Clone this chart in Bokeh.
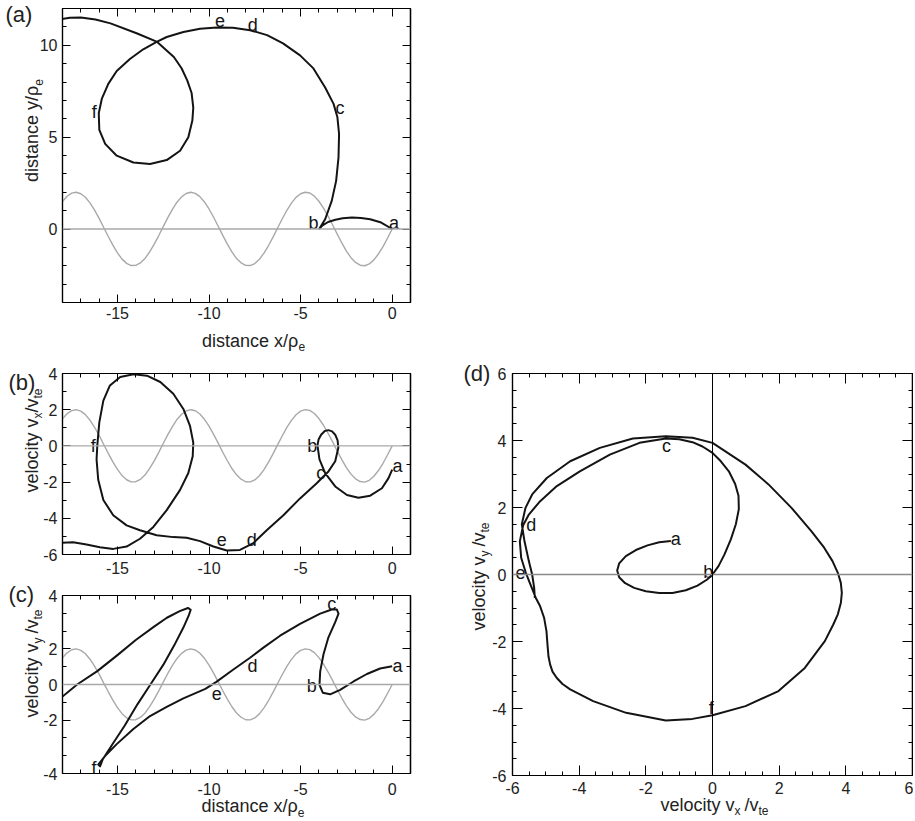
import math
from bokeh.plotting import figure
from bokeh.models import LinearAxis, SingleIntervalTicker, FixedTicker, Span, Range1d, Spacer
from bokeh.layouts import row, column
from bokeh.embed import file_html
from bokeh.resources import INLINE
from bokeh.core.properties import value

FONT = "Liberation Sans"
INK = "#141414"
GRAY = "#a9a9a9"
TXT = "#222222"

# ---------------- data ----------------
# gray reference wave, shared by panels (a)-(c)
wave_x = [-18.0, -17.75, -17.5, -17.25, -17.0, -16.75, -16.5, -16.25, -16.0, -15.75,
          -15.5, -15.25, -15.0, -14.75, -14.5, -14.25, -14.0, -13.75, -13.5, -13.25,
          -13.0, -12.75, -12.5, -12.25, -12.0, -11.75, -11.5, -11.25, -11.0, -10.75,
          -10.5, -10.25, -10.0, -9.75, -9.5, -9.25, -9.0, -8.75, -8.5, -8.25,
          -8.0, -7.75, -7.5, -7.25, -7.0, -6.75, -6.5, -6.25, -6.0, -5.75,
          -5.5, -5.25, -5.0, -4.75, -4.5, -4.25, -4.0, -3.75, -3.5, -3.25,
          -3.0, -2.75, -2.5, -2.25, -2.0, -1.75, -1.5, -1.25, -1.0, -0.75,
          -0.5, -0.25, 0.0]
wave_y = [1.50, 1.78, 1.95, 2.00, 1.92, 1.73, 1.42, 1.03, 0.58, 0.08,
          -0.41, -0.88, -1.30, -1.64, -1.87, -1.99, -1.98, -1.85, -1.61, -1.26,
          -0.84, -0.37, 0.13, 0.62, 1.07, 1.46, 1.75, 1.93, 2.00, 1.94,
          1.76, 1.47, 1.09, 0.64, 0.15, -0.35, -0.82, -1.25, -1.60, -1.84,
          -1.98, -1.99, -1.88, -1.65, -1.31, -0.90, -0.43, 0.07, 0.56, 1.02,
          1.41, 1.72, 1.92, 2.00, 1.96, 1.79, 1.51, 1.14, 0.70, 0.22,
          -0.28, -0.76, -1.20, -1.56, -1.82, -1.97, -2.00, -1.90, -1.68, -1.36,
          -0.96, -0.49, 0.00]

# (a) position: x vs y
x_a = [0.0, -0.6, -1.2, -1.7, -2.2, -2.7, -3.1, -3.5, -3.8, -3.97,
       -3.66, -3.3, -3.06, -2.93, -2.9, -2.99, -3.2, -3.66, -4.3, -5.03,
       -5.96, -6.83, -7.76, -8.69, -9.58, -10.49, -11.4, -12.31, -12.86, -13.59,
       -14.32, -15.04, -15.5, -15.85, -16.02, -15.99, -15.67, -15.04, -14.13, -13.22,
       -12.31, -11.58, -11.13, -10.91, -10.86, -10.95, -11.19, -11.5, -11.92, -12.83,
       -13.92, -15.38, -16.2, -17.0, -17.6, -18.05]
y_a = [0.0, 0.35, 0.53, 0.6, 0.62, 0.58, 0.5, 0.38, 0.2, 0.02,
       0.53, 1.53, 2.62, 3.9, 5.17, 6.08, 6.81, 7.7, 8.74, 9.45,
       10.1, 10.55, 10.82, 10.95, 10.97, 10.9, 10.72, 10.45, 10.18, 9.78,
       9.25, 8.6, 7.9, 7.1, 6.3, 5.4, 4.63, 3.99, 3.62, 3.54,
       3.75, 4.26, 4.99, 5.9, 6.6, 7.4, 8.09, 8.75, 9.36, 10.18,
       10.64, 11.19, 11.4, 11.51, 11.5, 11.42]

# (b) x vs vx
x_b = [0.0, -0.2, -0.56, -1.2, -1.84, -2.47, -3.11, -3.66, -3.97, -4.08,
       -4.02, -3.88, -3.68, -3.48, -3.28, -3.1, -2.98, -2.94, -3.11, -3.48,
       -4.12, -5.03, -5.94, -6.85, -7.58, -8.31, -9.03, -9.76, -10.49, -11.22,
       -11.95, -12.86, -13.77, -14.5, -15.23, -15.77, -16.05, -16.14, -16.1, -15.99,
       -15.77, -15.41, -14.85, -14.12, -13.39, -12.66, -11.95, -11.4, -11.04, -10.86,
       -10.89, -11.13, -11.58, -12.31, -13.04, -13.77, -14.5, -15.23, -15.96, -16.69,
       -17.42, -18.05]
vx_b = [-1.31, -1.78, -2.34, -2.75, -2.86, -2.71, -2.24, -1.5, -0.75, 0.03,
        0.35, 0.62, 0.82, 0.87, 0.8, 0.6, 0.3, -0.1, -0.85, -1.41,
        -2.06, -2.9, -3.83, -4.66, -5.37, -5.75, -5.78, -5.56, -5.26, -5.07,
        -5.04, -4.94, -4.66, -4.39, -3.83, -2.99, -1.87, -0.75, 0.03, 1.3,
        2.5, 3.34, 3.81, 3.96, 3.88, 3.53, 2.88, 2.04, 1.11, 0.18,
        -0.57, -1.5, -2.43, -3.55, -4.48, -5.13, -5.56, -5.69, -5.6, -5.45,
        -5.32, -5.35]

# (c) x vs vy
x_c = [0.0, -0.66, -1.38, -2.11, -2.84, -3.39, -3.79, -3.97, -3.93, -3.75,
       -3.48, -3.11, -2.93, -3.02, -3.3, -3.93, -5.03, -6.12, -7.03, -7.76,
       -8.67, -9.6, -10.2, -11.4, -12.31, -13.22, -14.13, -15.04, -15.68, -16.05,
       -15.95, -15.8, -15.3, -14.6, -13.9, -13.2, -12.5, -11.9, -11.4, -11.1,
       -11.0, -11.15, -11.6, -12.3, -13.0, -14.0, -15.0, -16.1, -17.2, -18.05]
vy_c = [1.03, 0.9, 0.59, 0.17, -0.3, -0.55, -0.46, -0.02, 0.74, 1.7,
        2.65, 3.5, 3.98, 4.21, 4.21, 3.98, 3.41, 2.74, 2.07, 1.5,
        0.84, 0.15, -0.25, -0.78, -1.26, -1.77, -2.5, -3.35, -4.02, -4.5,
        -4.6, -4.2, -3.4, -2.3, -1.1, 0.0, 1.1, 2.2, 3.2, 3.9,
        4.2, 4.3, 4.12, 3.75, 3.25, 2.5, 1.65, 0.75, 0.0, -0.72]

# (d) vx vs vy
vx_d = [-1.25, -1.6, -1.95, -2.3, -2.6, -2.8, -2.86, -2.8, -2.62, -2.35,
        -2.0, -1.6, -1.2, -0.8, -0.45, -0.16, 0.0, 0.18, 0.36, 0.55,
        0.7, 0.79, 0.78, 0.68, 0.49, 0.25, 0.0, -0.3, -0.6, -1.0,
        -1.4, -2.19, -3.08, -3.98, -4.67, -5.17, -5.51, -5.68, -5.78, -5.74,
        -5.6, -5.46, -5.3, -5.17, -5.05, -4.98, -4.95, -4.92, -4.87, -4.8,
        -4.67, -4.5, -4.27, -3.58, -2.59, -1.4, -0.6, 0.0, 0.99, 1.98,
        2.77, 3.37, 3.62, 3.76, 3.85, 3.88, 3.85, 3.76, 3.6, 3.35,
        2.97, 2.37, 1.68, 0.99, 0.0, -0.6, -1.4, -2.39, -3.38, -4.27,
        -4.97, -5.41, -5.61, -5.72, -5.64, -5.51, -5.41, -5.35, -5.33]
vy_d = [1.0, 0.96, 0.87, 0.73, 0.55, 0.33, 0.12, -0.08, -0.26, -0.4,
        -0.5, -0.55, -0.55, -0.47, -0.33, -0.15, 0.0, 0.25, 0.6, 1.05,
        1.5, 1.95, 2.35, 2.7, 3.08, 3.38, 3.63, 3.82, 3.95, 4.04,
        4.06, 3.93, 3.58, 3.08, 2.64, 2.19, 1.79, 1.47, 0.99, 0.5,
        0.05, -0.3, -0.7, -0.95, -1.3, -1.7, -2.1, -2.45, -2.69, -2.9,
        -3.09, -3.27, -3.43, -3.78, -4.13, -4.36, -4.31, -4.2, -3.93, -3.48,
        -2.79, -1.99, -1.5, -1.19, -0.85, -0.55, -0.25, 0.05, 0.4, 0.8,
        1.29, 1.99, 2.69, 3.28, 3.93, 4.08, 4.13, 4.06, 3.78, 3.38,
        2.88, 2.39, 1.99, 1.5, 0.99, 0.4, 0.0, -0.4, -0.7]

# point markers a-f
mark_names = ["a", "b", "c", "d", "e", "f"]
mark_a_x = [0.1, -4.3, -2.85, -7.61, -9.4, -16.27]
mark_a_y = [0.35, 0.35, 6.6, 11.09, 11.33, 6.36]
mark_b_x = [0.29, -4.36, -3.9, -7.67, -9.31, -16.32]
mark_b_y = [-1.13, -0.01, -1.5, -5.19, -5.19, -0.01]
mark_c_x = [0.29, -4.39, -3.3, -7.63, -9.58, -16.28]
mark_c_y = [1.03, -0.06, 4.51, 1.03, -0.5, -4.69]
mark_d_x = [-1.1, -0.13, -1.38, -5.44, -5.76, -0.04]
mark_d_y = [1.07, 0.08, 3.83, 1.49, 0.05, -3.98]

# tick labels as printed in the original (hyphen minus; panel (c) prints 4 at its edges)
x_tick_text = {-15: "-15", -10: "-10", -5: "-5"}
b_tick_text = {-6: "-6", -4: "-4", -2: "-2"}
c_ticks = [-5, -2, 0, 2, 5]
c_tick_text = {-5: "-4", -2: "-2", 5: "4"}
d_tick_text = {-6: "-6", -4: "-4", -2: "-2"}

# ---------------- helpers ----------------
CW = {'a': 556, 'b': 556, 'c': 500, 'd': 556, 'e': 556, 'i': 222, 'l': 222, 'n': 556,
      'o': 556, 's': 500, 't': 278, 'v': 500, 'x': 500, 'y': 500, ' ': 278, '/': 278,
      'ρ': 576}


def tw(s, size):
    return sum(CW.get(ch, 556) for ch in s) * size / 1000.0


def build(xr, yr, fw, fh, ml, mr, mt, mb):
    p = figure(x_range=Range1d(xr[0], xr[1]), y_range=Range1d(yr[0], yr[1]),
               frame_width=fw, frame_height=fh,
               min_border_left=ml, min_border_right=mr,
               min_border_top=mt, min_border_bottom=mb,
               output_backend="svg", toolbar_location=None, tools="")
    p.grid.visible = False
    p.outline_line_color = "black"
    p.outline_line_width = 1.2
    p.background_fill_color = "white"
    p.border_fill_color = "white"
    return p


def style_main(ax, ticker, maj, mnr, so, overrides):
    ax.ticker = ticker
    ax.axis_line_color = "black"
    ax.axis_line_width = 1.2
    ax.major_tick_in = maj
    ax.major_tick_out = 0
    ax.minor_tick_in = mnr
    ax.minor_tick_out = 0
    ax.major_tick_line_color = "black"
    ax.minor_tick_line_color = "black"
    ax.major_label_text_font = FONT
    ax.major_label_text_font_size = "16px"
    ax.major_label_text_color = TXT
    ax.major_label_standoff = so
    ax.major_label_overrides = overrides


def mirror(p, side, majors, minors, maj, mnr):
    # tick marks only (no labels) on the opposite frame edges
    for ticks, ln in ((majors, maj), (minors, mnr)):
        ax = LinearAxis(ticker=FixedTicker(ticks=[], minor_ticks=ticks))
        ax.axis_line_color = "black"
        ax.axis_line_width = 1.2
        ax.major_tick_in = 0
        ax.major_tick_out = 0
        ax.minor_tick_in = ln
        ax.minor_tick_out = 0
        ax.minor_tick_line_color = "black"
        ax.major_label_standoff = 0
        p.add_layout(ax, side)


def put(p, x, y, text, size, angle=0.0, align="left"):
    p.text(x=[x], y=[y], text=[text], angle=angle, text_font=value(FONT),
           text_font_size=f"{size}px", text_color=TXT, text_align=align,
           text_baseline="middle", level="overlay")


def compose(p, pieces, cx, cy, sx, sy, vertical=False):
    """axis title made of pieces (text, size, drop_px, gap_px); (cx, cy) = visual centre"""
    total = sum(tw(t, s) + g for t, s, d, g in pieces)
    pos = -total / 2.0
    for t, s, d, g in pieces:
        pos += g
        if vertical:
            put(p, cx + d / sx, cy + pos / sy, t, s, angle=math.pi / 2)
        else:
            put(p, cx + pos / sx, cy - d / sy, t, s)
        pos += tw(t, s)


def marks(p, xs, ys):
    p.text(x=xs, y=ys, text=mark_names, text_font=value(FONT), text_font_size="18px",
           text_color=INK, text_align="center", text_baseline="middle")


AL, SB, DR = 18, 12, 6
t_dist_x = [("distance x/ρ", AL, 0, 0), ("e", SB, DR, 0)]
t_dist_y = [("distance y/ρ", AL, 0, 0), ("e", SB, DR, 0)]
t_vx = [("velocity v", AL, 0, 0), ("x", SB, DR, 0), ("/v", AL, 0, 0), ("te", SB, DR, 0)]
t_vy = [("velocity v", AL, 0, 0), ("y", SB, DR, 0), ("/v", AL, 0, 4), ("te", SB, DR, 0)]
t_vx_d = [("velocity v", AL, 0, 0), ("x", SB, DR, 0), ("/v", AL, 0, 4), ("te", SB, DR, 0)]
TAG = 22

x_major = [-15, -10, -5, 0]
x_minor = [v for v in range(-18, 2) if v % 5 != 0]

# ---------------- panel (a) ----------------
fa = build((-18, 1), (-4, 12), 348, 294, 62, 8, 8, 53)
sxa, sya = 348 / 19, 294 / 16
style_main(fa.below[0], SingleIntervalTicker(interval=5, num_minor_ticks=5), 8, 4, 4, x_tick_text)
style_main(fa.left[0], SingleIntervalTicker(interval=5, num_minor_ticks=5), 8, 4, 5, {})
mirror(fa, "above", x_major, x_minor, 8, 4)
mirror(fa, "right", [0, 5, 10], [v for v in range(-4, 13) if v % 5 != 0], 8, 4)
fa.line(wave_x, wave_y, line_color=GRAY, line_width=1.4)
fa.add_layout(Span(location=0, dimension="width", line_color=GRAY, line_width=1.3))
fa.line(x_a, y_a, line_color=INK, line_width=2.0, line_join="round")
marks(fa, mark_a_x, mark_a_y)
compose(fa, t_dist_x, -7.57, -6.07, sxa, sya)
compose(fa, t_dist_y, -19.64, 5.36, sxa, sya, vertical=True)
put(fa, -21.11, 11.67, "(a)", TAG)

# ---------------- panel (b) ----------------
fb = build((-18, 1), (-6, 4), 348, 181, 62, 8, 18, 26)
sxb, syb = 348 / 19, 181 / 10
style_main(fb.below[0], SingleIntervalTicker(interval=5, num_minor_ticks=5), 8, 4, 7, x_tick_text)
style_main(fb.left[0], SingleIntervalTicker(interval=2, num_minor_ticks=2), 8, 4, 5, b_tick_text)
mirror(fb, "above", x_major, x_minor, 8, 4)
mirror(fb, "right", [-6, -4, -2, 0, 2, 4], [-5, -3, -1, 1, 3], 8, 4)
fb.line(wave_x, wave_y, line_color=GRAY, line_width=1.4)
fb.add_layout(Span(location=0, dimension="width", line_color=GRAY, line_width=1.3))
fb.line(x_b, vx_b, line_color=INK, line_width=2.0, line_join="round")
marks(fb, mark_b_x, mark_b_y)
compose(fb, t_vx, -19.69, 0.3, sxb, syb, vertical=True)
put(fb, -20.95, 3.5, "(b)", TAG)

# ---------------- panel (c) ----------------
fc = build((-18, 1), (-5, 5), 348, 178, 62, 8, 15, 47)
sxc, syc = 348 / 19, 178 / 10
style_main(fc.below[0], SingleIntervalTicker(interval=5, num_minor_ticks=5), 8, 4, 9, x_tick_text)
style_main(fc.left[0], FixedTicker(ticks=c_ticks, minor_ticks=list(range(-5, 6))), 8, 4, 5, c_tick_text)
mirror(fc, "above", x_major, x_minor, 8, 4)
mirror(fc, "right", [-2, 0, 2], [-4, -3, -1, 1, 3, 4], 8, 4)
fc.line(wave_x, wave_y, line_color=GRAY, line_width=1.4)
fc.add_layout(Span(location=0, dimension="width", line_color=GRAY, line_width=1.3))
fc.line(x_c, vy_c, line_color=INK, line_width=2.0, line_join="round")
marks(fc, mark_c_x, mark_c_y)
compose(fc, t_dist_x, -7.6, -6.85, sxc, syc)
compose(fc, t_vy, -19.69, 1.18, sxc, syc, vertical=True)
put(fc, -20.95, 5.06, "(c)", TAG)

# ---------------- panel (d) ----------------
fd = build((-6, 6), (-6, 6), 400, 402, 94, 1, 12, 45)
sxd, syd = 400 / 12, 402 / 12
d_major = [-6, -4, -2, 0, 2, 4, 6]
d_minor = [v / 2 for v in range(-12, 13) if v % 4 != 0]
style_main(fd.below[0], SingleIntervalTicker(interval=2, num_minor_ticks=4), 10, 4, 6, d_tick_text)
style_main(fd.left[0], SingleIntervalTicker(interval=2, num_minor_ticks=4), 10, 4, 6, d_tick_text)
mirror(fd, "above", d_major, d_minor, 10, 4)
mirror(fd, "right", d_major, d_minor, 10, 4)
fd.add_layout(Span(location=0, dimension="width", line_color="#8a8a8a", line_width=1.6))
fd.add_layout(Span(location=0, dimension="height", line_color="black", line_width=1.0))
fd.line(vx_d, vy_d, line_color=INK, line_width=2.0, line_join="round")
marks(fd, mark_d_x, mark_d_y)
compose(fd, t_vx_d, 0.06, -6.87, sxd, syd)
compose(fd, t_vy, -7.02, -0.06, sxd, syd, vertical=True)
put(fd, -7.47, 6.0, "(d)", TAG)

left = column(fa, fb, fc)
right = column(Spacer(width=495, height=361), fd)
page = row(left, right)

open("out.html", "w").write(file_html(page, INLINE, title="trajectory"))
